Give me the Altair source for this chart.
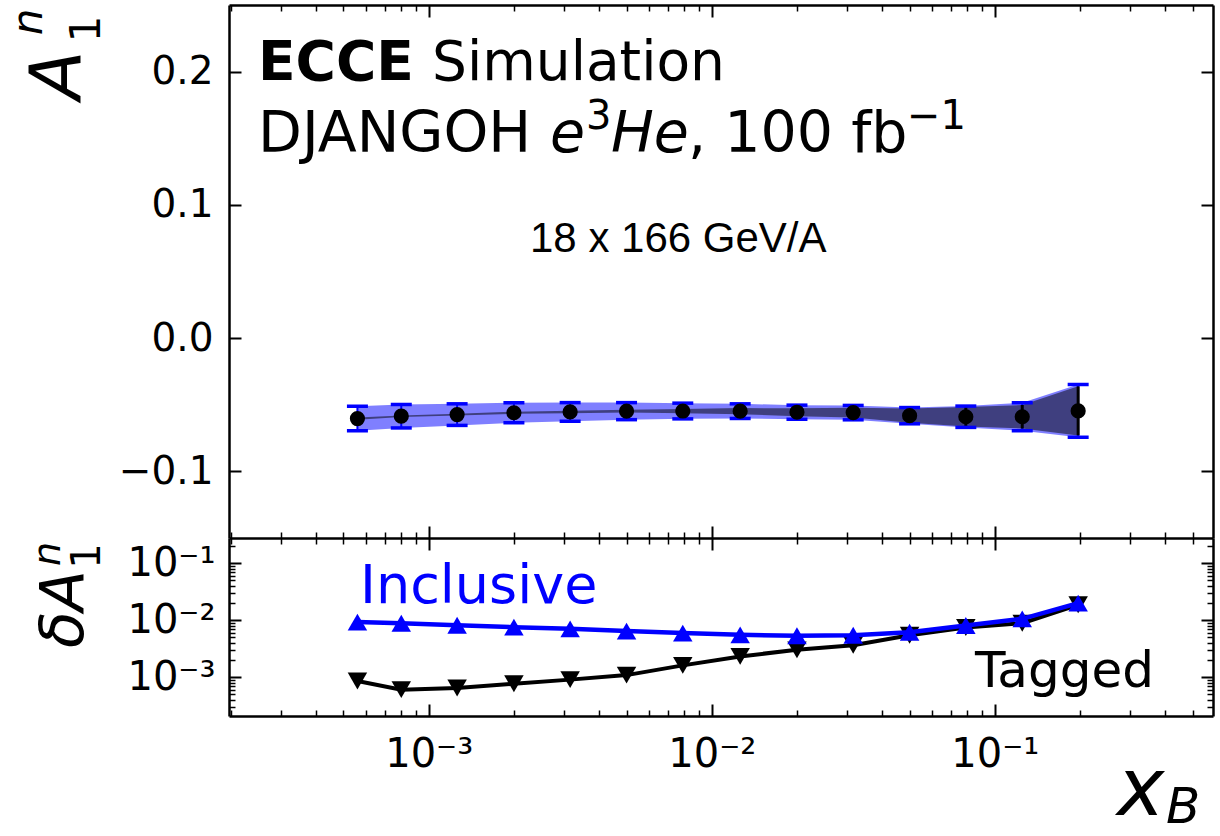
import altair as alt
import pandas as pd

# ---------------- data ----------------
x_bins = [5.6e-4, 8.0e-4, 1.26e-3, 2.0e-3, 3.16e-3, 5.0e-3, 7.9e-3,
          1.26e-2, 2.0e-2, 3.16e-2, 5.0e-2, 7.9e-2, 0.125, 0.197]
a1n = [-0.0604, -0.0586, -0.0574, -0.0560, -0.0554, -0.0548, -0.0547,
       -0.0548, -0.0556, -0.0559, -0.0582, -0.0590, -0.0590, -0.0546]
err_inclusive = [0.0092, 0.0088, 0.0081, 0.0075, 0.0070, 0.0064, 0.0059,
                 0.0055, 0.0053, 0.0054, 0.0061, 0.0080, 0.0105, 0.0198]
err_tagged = [8.5e-4, 6.0e-4, 6.4e-4, 7.6e-4, 9.0e-4, 1.08e-3, 1.6e-3,
              2.3e-3, 3.0e-3, 3.6e-3, 5.4e-3, 7.4e-3, 8.8e-3, 1.85e-2]

x_major = [1e-3, 1e-2, 1e-1]
x_minor = [2e-4, 3e-4, 4e-4, 5e-4, 6e-4, 7e-4, 8e-4, 9e-4,
           2e-3, 3e-3, 4e-3, 5e-3, 6e-3, 7e-3, 8e-3, 9e-3,
           2e-2, 3e-2, 4e-2, 5e-2, 6e-2, 7e-2, 8e-2, 9e-2,
           2e-1, 3e-1, 4e-1, 5e-1]
ytop_major = [-0.1, 0.0, 0.1, 0.2]
ybot_major = [1e-3, 1e-2, 1e-1]
ybot_minor = [3e-4, 4e-4, 5e-4, 6e-4, 7e-4, 8e-4, 9e-4,
              2e-3, 3e-3, 4e-3, 5e-3, 6e-3, 7e-3, 8e-3, 9e-3,
              2e-2, 3e-2, 4e-2, 5e-2, 6e-2, 7e-2, 8e-2, 9e-2, 2e-1]
log_label_expr = ("datum.value < 0.005 ? '10\u207b\u00b3' : "
                  "(datum.value < 0.05 ? '10\u207b\u00b2' : '10\u207b\u00b9')")

# texts
txt_ecce = ["ECCE"]
txt_sim = ["Simulation"]
txt_djangoh = ["DJANGOH"]
txt_e = ["e"]
txt_3 = ["3"]
txt_he = ["He"]
txt_lumi = [", 100 fb"]
txt_m1 = ["\u22121"]
txt_energy = ["18 x 166 GeV/A"]
txt_incl = ["Inclusive"]
txt_tag = ["Tagged"]

W, H = 984, 711
TOP_H = 533

df = pd.DataFrame({"x": x_bins, "a": a1n, "ei": err_inclusive, "et": err_tagged})
df["inc_lo"] = df["a"] - df["ei"]
df["inc_hi"] = df["a"] + df["ei"]
df["tag_lo"] = df["a"] - df["et"]
df["tag_hi"] = df["a"] + df["et"]
caps = pd.concat([
    pd.DataFrame({"x": df["x"], "c": df["inc_hi"]}),
    pd.DataFrame({"x": df["x"], "c": df["inc_lo"]}),
])

xs = alt.Scale(type="log", domain=[1.97e-4, 0.59], nice=False)
yt = alt.Scale(domain=[-0.15, 0.25], range=[TOP_H, 0], nice=False, zero=False)
yb = alt.Scale(type="log", domain=[2.07e-4, 0.275], range=[H, TOP_H], nice=False)

FONT = "DejaVu Sans"
XN = alt.X("x:Q", scale=xs, axis=None)

layers = []
base = alt.Chart(df)
# top panel
layers.append(base.mark_area(color="#0000ff", opacity=0.5).encode(
    x=XN, y=alt.Y("inc_lo:Q", scale=yt, axis=None), y2="inc_hi:Q"))
layers.append(base.mark_area(color="#000000", opacity=0.5).encode(
    x=XN, y=alt.Y("tag_lo:Q", scale=yt, axis=None), y2="tag_hi:Q"))
layers.append(base.mark_rule(color="#0000ff", strokeWidth=2).encode(
    x=XN, y=alt.Y("inc_lo:Q", scale=yt, axis=None), y2="inc_hi:Q"))
layers.append(base.mark_rule(color="#000000", strokeWidth=3).encode(
    x=XN, y=alt.Y("tag_lo:Q", scale=yt, axis=None), y2="tag_hi:Q"))
layers.append(alt.Chart(caps).mark_tick(orient="horizontal", size=21, thickness=3.5,
                                        color="#0000ff", opacity=1).encode(
    x=XN, y=alt.Y("c:Q", scale=yt, axis=None)))
layers.append(base.mark_point(filled=True, shape="circle", size=230, color="black",
                              opacity=1).encode(
    x=XN, y=alt.Y("a:Q", scale=yt, axis=None)))
# bottom panel
layers.append(base.mark_line(color="black", strokeWidth=4).encode(
    x=XN, y=alt.Y("et:Q", scale=yb, axis=None)))
layers.append(base.mark_point(filled=True, shape="triangle-down", size=380, color="black",
                              opacity=1).encode(
    x=XN, y=alt.Y("et:Q", scale=yb, axis=None)))
layers.append(base.mark_line(color="#0000ff", strokeWidth=4.5).encode(
    x=XN, y=alt.Y("ei:Q", scale=yb, axis=None)))
layers.append(base.mark_point(filled=True, shape="triangle-up", size=380, color="#0000ff",
                              opacity=1).encode(
    x=XN, y=alt.Y("ei:Q", scale=yb, axis=None)))


def text_layer(values, x, y, size, color="black", style="normal", weight="normal",
               angle=0, align="left", baseline="alphabetic", font=FONT):
    kw = dict(fontSize=size, color=color, fontStyle=style, fontWeight=weight,
              align=align, baseline=baseline, font=font)
    if angle:
        kw["angle"] = angle
    return alt.Chart(pd.DataFrame({"t": values})).mark_text(**kw).encode(
        text="t:N", x=alt.value(x), y=alt.value(y))


# annotations
layers += [
    text_layer(txt_ecce, 29, 75, 55, weight="bold"),
    text_layer(txt_sim, 203, 75, 55),
    text_layer(txt_djangoh, 29, 147, 57),
    text_layer(txt_e, 321, 147, 57, style="italic"),
    text_layer(txt_3, 357, 124, 40),
    text_layer(txt_he, 382, 147, 57, style="italic"),
    text_layer(txt_lumi, 459, 147, 57),
    text_layer(txt_m1, 678, 124, 40),
    text_layer(txt_energy, 301, 247, 42, font="Liberation Sans"),
    text_layer(txt_incl, 131, 598, 54, color="#0000ff"),
    text_layer(txt_tag, 746, 682, 50),
    # y titles
    text_layer(["A"], -149, 70, 72, style="italic", angle=270, align="center"),
    text_layer(["n"], -187, 17, 42, style="italic", angle=270, align="center"),
    text_layer(["1"], -129, 24, 42, angle=270, align="center"),
    text_layer(["\u03b4A"], -146, 604, 60, style="italic", angle=270, align="center"),
    text_layer(["n"], -169, 549, 38, style="italic", angle=270, align="center"),
    text_layer(["1"], -129, 551, 40, angle=270, align="center"),
    # x title
    text_layer(["x"], 888, 810, 80, style="italic"),
    text_layer(["B"], 937, 818, 50, style="italic"),
]

AX = dict(title="", grid=False, domainColor="black", domainWidth=2.5,
          tickColor="black", labelColor="black", labelFont=FONT)


def xaxis(**kw):
    opts = dict(AX)
    opts.update(kw)
    return alt.Chart(df).mark_point(opacity=0).encode(
        x=alt.X("x:Q", scale=xs, axis=alt.Axis(**opts)))


def ytop_axis(**kw):
    opts = dict(AX)
    opts.update(kw)
    return alt.Chart(df).mark_point(opacity=0).encode(
        y=alt.Y("a:Q", scale=yt, axis=alt.Axis(**opts)))


def ybot_axis(**kw):
    opts = dict(AX)
    opts.update(kw)
    return alt.Chart(df).mark_point(opacity=0).encode(
        y=alt.Y("et:Q", scale=yb, axis=alt.Axis(**opts)))


MAJ = dict(labels=False, ticks=True, tickSize=12, tickWidth=2)
MIN = dict(labels=False, ticks=True, tickSize=6, tickWidth=1.5)

layers += [
    # bottom labels + bottom spine
    xaxis(orient="bottom", offset=0, values=x_major, labels=True, ticks=False, tickSize=0,
          labelFontSize=40, labelPadding=18, labelExpr=log_label_expr, labelOverlap=False,
          domain=True),
    xaxis(orient="top", offset=-H, values=x_major, domain=False, **MAJ),
    xaxis(orient="top", offset=-H, values=x_minor, domain=False, **MIN),
    # boundary between panels
    xaxis(orient="top", offset=-TOP_H, values=x_major, domain=True, **MAJ),
    xaxis(orient="top", offset=-TOP_H, values=x_minor, domain=False, **MIN),
    xaxis(orient="bottom", offset=-(H - TOP_H), values=x_major, domain=False, **MAJ),
    xaxis(orient="bottom", offset=-(H - TOP_H), values=x_minor, domain=False, **MIN),
    # top spine
    xaxis(orient="bottom", offset=-H, values=x_major, domain=True, **MAJ),
    xaxis(orient="bottom", offset=-H, values=x_minor, domain=False, **MIN),
    # top panel y
    ytop_axis(orient="left", offset=0, values=ytop_major, labels=True, ticks=False, tickSize=0,
              labelFontSize=39, labelPadding=16, format=".1f", labelOverlap=False,
              domain=True),
    ytop_axis(orient="right", offset=-W, values=ytop_major, domain=False, **MAJ),
    ytop_axis(orient="left", offset=-W, values=ytop_major, domain=True, **MAJ),
    # bottom panel y
    ybot_axis(orient="left", offset=0, values=ybot_major, labels=True, ticks=False, tickSize=0,
              labelFontSize=40, labelPadding=14, labelExpr=log_label_expr, labelOverlap=False,
              domain=True),
    ybot_axis(orient="right", offset=-W, values=ybot_major, domain=False, **MAJ),
    ybot_axis(orient="right", offset=-W, values=ybot_minor, domain=False, **MIN),
    ybot_axis(orient="left", offset=-W, values=ybot_major, domain=True, **MAJ),
    ybot_axis(orient="left", offset=-W, values=ybot_minor, domain=False, **MIN),
]

chart = alt.layer(*layers).resolve_scale(y="independent").resolve_axis(
    x="independent", y="independent"
).properties(
    width=W, height=H,
    autosize=alt.AutoSizeParams(type="none"),
    padding={"left": 229, "top": 5, "right": 7, "bottom": 120},
    background="white",
).configure_view(stroke="transparent")

chart.save("out.html", embed_options={"renderer": "svg", "actions": False})
